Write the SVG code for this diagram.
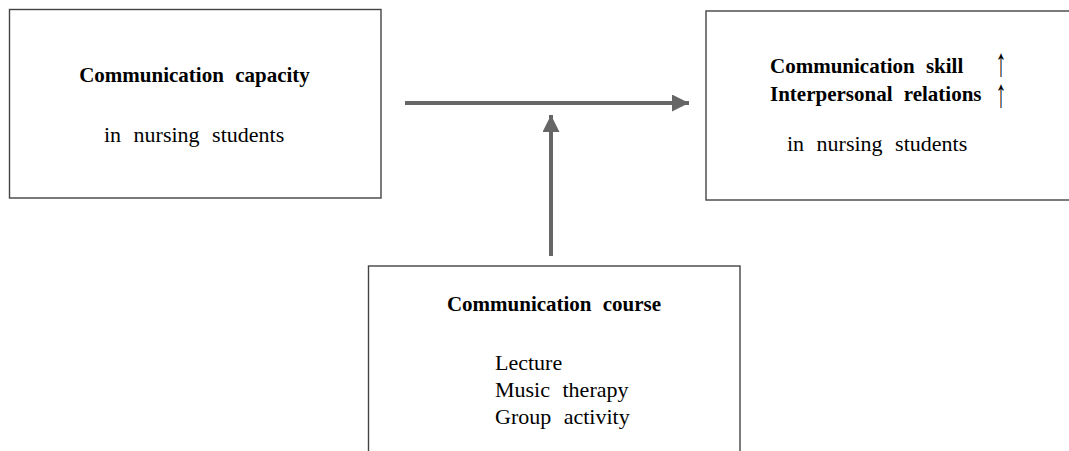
<svg xmlns="http://www.w3.org/2000/svg" width="1069" height="451" viewBox="0 0 1069 451">
  <style>
    .box { fill: #ffffff; stroke: #444444; stroke-width: 1.4; }
    .b { font-family: "Liberation Serif", "Times New Roman", serif; font-weight: bold; font-size: 21px; word-spacing: 6px; fill: #000; }
    .r { font-family: "Liberation Serif", "Times New Roman", serif; font-size: 22px; word-spacing: 7px; fill: #000; }
    .up { font-family: "Liberation Serif", "DejaVu Serif", serif; font-size: 40px; fill: #000; }
    .conn { stroke: #666666; stroke-width: 4; fill: none; }
  </style>
  <defs>
    <marker id="ah" viewBox="0 0 10 10" refX="10" refY="5" markerUnits="userSpaceOnUse" markerWidth="17" markerHeight="17" orient="auto">
      <path d="M0,0 L10,5 L0,10 Z" fill="#666666"/>
    </marker>
  </defs>
  <rect width="1069" height="451" fill="#ffffff"/>

  <g id="node-capacity">
    <rect class="box" x="9.5" y="9.5" width="371.5" height="188.5"/>
    <text class="b" x="194.5" y="82" text-anchor="middle">Communication capacity</text>
    <text class="r" x="104" y="142">in nursing students</text>
  </g>

  <g id="node-outcome">
    <rect class="box" x="706" y="11" width="380" height="189"/>
    <text class="b" x="770" y="73">Communication skill</text>
    <text class="b" x="770" y="101">Interpersonal relations</text>
    <text class="up" text-anchor="middle" transform="translate(1001,0) scale(0.55,1)"><tspan x="0" y="76">↑</tspan><tspan x="0" y="107">↑</tspan></text>
    <text class="r" x="787" y="151">in nursing students</text>
  </g>

  <g id="node-course">
    <rect class="box" x="368.5" y="266" width="371.5" height="200"/>
    <text class="b" x="554" y="311" text-anchor="middle">Communication course</text>
    <text class="r" x="495" y="370">Lecture</text>
    <text class="r" x="495" y="397">Music therapy</text>
    <text class="r" x="495" y="424">Group activity</text>
  </g>

  <g id="connectors">
    <line class="conn" x1="405" y1="103" x2="689" y2="103" marker-end="url(#ah)"/>
    <line class="conn" x1="551" y1="256" x2="551" y2="115" marker-end="url(#ah)"/>
  </g>
</svg>
